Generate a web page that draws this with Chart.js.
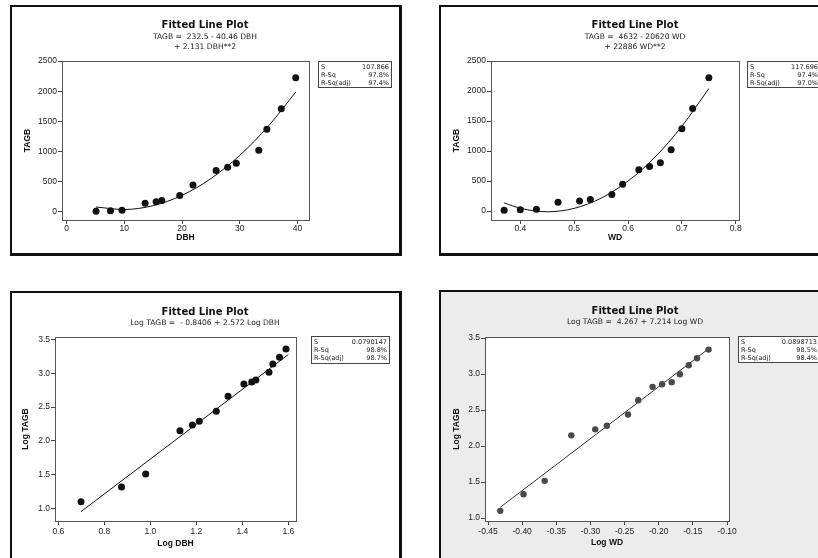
<!DOCTYPE html>
<html>
<head>
<meta charset="utf-8">
<script src="https://cdn.jsdelivr.net/npm/chart.js@4.4.1/dist/chart.umd.min.js"></script>
<style>
  html, body { margin: 0; padding: 0; overflow: hidden; }
  body { position: relative; width: 818px; height: 558px; background: #fff; font-family: 'DejaVu Sans', sans-serif; }
  .panel { position: absolute; box-sizing: border-box; border-style: solid; border-color: #111; border-width: 2px 3px 3px 2px; }
  canvas { position: absolute; }
  .ttl { position: absolute; width: 300px; text-align: center; font-weight: bold; font-size: 10px; line-height: 12px; color: #111; white-space: pre; }
  .sub { position: absolute; width: 300px; text-align: center; font-size: 7.6px; line-height: 10px; color: #222; white-space: pre; }
  .stats { position: absolute; box-sizing: border-box; border: 1px solid #444; background: #fff; font-size: 6.5px; line-height: 8px; padding: 1px 2px; color: #222; will-change: transform; }
  .stats div { display: flex; justify-content: space-between; }
</style>
</head>
<body>
<script>
// ---- values ----
const dbh  = [5.1, 7.6, 9.6, 13.6, 15.5, 16.5, 19.6, 21.9, 25.9, 27.9, 29.4, 33.3, 34.7, 37.2, 39.7];
const wd   = [0.37, 0.40, 0.43, 0.47, 0.51, 0.53, 0.57, 0.59, 0.62, 0.64, 0.66, 0.68, 0.70, 0.72, 0.75];
const tagb = [13, 22, 30, 145, 168, 190, 273, 447, 688, 741, 805, 1022, 1370, 1710, 2222];

const logDbh   = [0.699, 0.875, 0.980, 1.129, 1.183, 1.213, 1.287, 1.338, 1.407, 1.441, 1.459, 1.516, 1.533, 1.562, 1.590];
const logTagbD = [1.103, 1.320, 1.512, 2.152, 2.236, 2.289, 2.437, 2.658, 2.841, 2.870, 2.900, 3.013, 3.136, 3.234, 3.357];
const logWd    = [-0.432, -0.398, -0.367, -0.328, -0.293, -0.276, -0.245, -0.230, -0.209, -0.195, -0.181, -0.169, -0.156, -0.144, -0.127];
const logTagbW = [1.101, 1.332, 1.517, 2.149, 2.232, 2.282, 2.439, 2.637, 2.822, 2.859, 2.887, 2.997, 3.122, 3.219, 3.339];

// fitted lines
const fitDbhX = [5.1, 10, 15, 20, 25, 30, 35, 39.7];
const fitDbhY = [82, 41, 105, 276, 553, 937, 1427, 1985];
const fitWdX  = [0.37, 0.40, 0.45, 0.50, 0.55, 0.60, 0.65, 0.70, 0.75];
const fitWdY  = [136, 46, -13, 44, 214, 499, 898, 1412, 2040];
const fitLogDbhX = [0.699, 1.600];
const fitLogDbhY = [0.957, 3.275];
const fitLogWdX  = [-0.432, -0.125];
const fitLogWdY  = [1.151, 3.365];

// tick labels
const ticksDbh     = [0, 10, 20, 30, 40];
const ticksWd      = [0.4, 0.5, 0.6, 0.7, 0.8];
const ticksTagb    = [0, 500, 1000, 1500, 2000, 2500];
const ticksLogDbh  = [0.6, 0.8, 1.0, 1.2, 1.4, 1.6];
const ticksLogWd   = [-0.45, -0.40, -0.35, -0.30, -0.25, -0.20, -0.15, -0.10];
const ticksLogTagb = [1.0, 1.5, 2.0, 2.5, 3.0, 3.5];

const framePlugin = {
  id: 'frame',
  beforeDraw(chart) {
    const { ctx, chartArea: a } = chart;
    ctx.save();
    ctx.fillStyle = '#fff';
    ctx.fillRect(a.left, a.top, a.right - a.left, a.bottom - a.top);
    ctx.restore();
  },
  beforeDatasetsDraw(chart) {
    const { ctx, chartArea: a } = chart;
    ctx.save();
    ctx.strokeStyle = '#555';
    ctx.lineWidth = 1;
    ctx.strokeRect(Math.round(a.left) + 0.5, Math.round(a.top) + 0.5, Math.round(a.right - a.left), Math.round(a.bottom - a.top));
    ctx.restore();
  }
};

function addText(cls, text, cx, cy, h) {
  const el = document.createElement('div');
  el.className = cls;
  el.textContent = text;
  el.style.left = (cx - 150) + 'px';
  el.style.top = (cy - h / 2) + 'px';
  document.body.appendChild(el);
}

function addStats(rect, rows) {
  const el = document.createElement('div');
  el.className = 'stats';
  el.style.left = rect[0] + 'px';
  el.style.top = rect[1] + 'px';
  el.style.width = rect[2] + 'px';
  el.style.height = rect[3] + 'px';
  rows.forEach(r => {
    const row = document.createElement('div');
    row.innerHTML = '<span>' + r[0] + '</span><span>' + r[1] + '</span>';
    el.appendChild(row);
  });
  document.body.appendChild(el);
}

function axis(min, max, ticks, dec, title, isX, size, pad, titlePad) {
  return {
    type: 'linear',
    min: min,
    max: max,
    afterFit: s => { if (isX) s.height = size; else s.width = size; },
    afterBuildTicks: s => { s.ticks = ticks.map(v => ({ value: v })); },
    ticks: {
      callback: v => Number(v).toFixed(dec),
      color: '#222',
      font: { size: 8.5 },
      padding: pad,
      maxRotation: 0,
      autoSkip: false
    },
    grid: { display: true, drawOnChartArea: false, drawTicks: true, tickLength: 4, color: '#444' },
    border: { display: false },
    title: {
      display: true,
      text: title,
      color: '#111',
      font: { size: 8.5, weight: 'bold' },
      padding: { top: titlePad, bottom: titlePad }
    }
  };
}

function createPanel(p) {
  const [L, T, W, H] = p.box;
  const box = document.createElement('div');
  box.className = 'panel';
  Object.assign(box.style, { left: L + 'px', top: T + 'px', width: W + 'px', height: H + 'px', background: p.bg });
  document.body.appendChild(box);

  const cx = L + 2, cy = T + 2, cw = W - 5, ch = H - 5;
  const cv = document.createElement('canvas');
  cv.width = cw;
  cv.height = ch;
  cv.style.left = cx + 'px';
  cv.style.top = cy + 'px';
  document.body.appendChild(cv);

  const [x0, x1, y0, y1] = p.area;
  new Chart(cv, {
    type: 'scatter',
    data: {
      datasets: [
        {
          data: p.x.map((v, i) => ({ x: v, y: p.y[i] })),
          showLine: false,
          pointRadius: p.r,
          backgroundColor: p.dot,
          borderColor: p.dot,
          pointBorderWidth: 0
        },
        {
          data: p.fitX.map((v, i) => ({ x: v, y: p.fitY[i] })),
          showLine: true,
          pointRadius: 0,
          borderColor: p.line,
          borderWidth: 1,
          cubicInterpolationMode: 'monotone',
          fill: false
        }
      ]
    },
    options: {
      responsive: false,
      animation: false,
      events: [],
      layout: {
        padding: { left: x0 - cx - p.yW, right: cx + cw - x1, top: y0 - cy, bottom: cy + ch - y1 - p.xH }
      },
      plugins: { legend: { display: false }, tooltip: { enabled: false } },
      scales: {
        x: axis(p.xMin, p.xMax, p.xTicks, p.xDec, p.xTitle, true, p.xH, p.xPad, 1),
        y: axis(p.yMin, p.yMax, p.yTicks, p.yDec, p.yTitle, false, p.yW, 1, 1)
      }
    },
    plugins: [framePlugin]
  });
}

// top-left: TAGB vs DBH
createPanel({
  box: [10, 5, 392, 251], bg: '#fff', area: [62, 309, 61, 220],
  x: dbh, y: tagb, fitX: fitDbhX, fitY: fitDbhY, r: 3.5, dot: '#111', line: '#111',
  xMin: -0.8, xMax: 42, xTicks: ticksDbh, xDec: 0, xTitle: 'DBH', xH: 24, xPad: 0,
  yMin: -133, yMax: 2500, yTicks: ticksTagb, yDec: 0, yTitle: 'TAGB', yW: 40
});
addText('ttl', 'Fitted Line Plot', 205, 25, 12);
addText('sub', 'TAGB =  232.5 - 40.46 DBH', 205, 37, 10);
addText('sub', '+ 2.131 DBH**2', 205, 47, 10);
addStats([318, 61, 74, 27], [['S', '107.866'], ['R-Sq', '97.8%'], ['R-Sq(adj)', '97.4%']]);

// top-right: TAGB vs WD
createPanel({
  box: [439, 5, 392, 251], bg: '#fff', area: [491, 739, 61, 220],
  x: wd, y: tagb, fitX: fitWdX, fitY: fitWdY, r: 3.5, dot: '#111', line: '#111',
  xMin: 0.3456, xMax: 0.806, xTicks: ticksWd, xDec: 1, xTitle: 'WD', xH: 24, xPad: 0,
  yMin: -150, yMax: 2500, yTicks: ticksTagb, yDec: 0, yTitle: 'TAGB', yW: 40
});
addText('ttl', 'Fitted Line Plot', 635, 25, 12);
addText('sub', 'TAGB =  4632 - 20620 WD', 635, 37, 10);
addText('sub', '+ 22886 WD**2', 635, 47, 10);
addStats([747, 61, 74, 27], [['S', '117.696'], ['R-Sq', '97.4%'], ['R-Sq(adj)', '97.0%']]);

// bottom-left: Log TAGB vs Log DBH
createPanel({
  box: [10, 291, 392, 275], bg: '#fff', area: [55, 296, 337, 521],
  x: logDbh, y: logTagbD, fitX: fitLogDbhX, fitY: fitLogDbhY, r: 3.5, dot: '#111', line: '#111',
  xMin: 0.5857, xMax: 1.6335, xTicks: ticksLogDbh, xDec: 1, xTitle: 'Log DBH', xH: 29, xPad: 2,
  yMin: 0.818, yMax: 3.534, yTicks: ticksLogTagb, yDec: 1, yTitle: 'Log TAGB', yW: 35
});
addText('ttl', 'Fitted Line Plot', 205, 312, 12);
addText('sub', 'Log TAGB =  - 0.8406 + 2.572 Log DBH', 205, 323, 10);
addStats([311, 336, 79, 28], [['S', '0.0790147'], ['R-Sq', '98.8%'], ['R-Sq(adj)', '98.7%']]);

// bottom-right: Log TAGB vs Log WD
createPanel({
  box: [439, 290, 392, 276], bg: '#ececec', area: [485, 729, 337, 521],
  x: logWd, y: logTagbW, fitX: fitLogWdX, fitY: fitLogWdY, r: 3.2, dot: '#4a4a4a', line: '#333',
  xMin: -0.4544, xMax: -0.0971, xTicks: ticksLogWd, xDec: 2, xTitle: 'Log WD', xH: 28, xPad: 2,
  yMin: 0.96, yMax: 3.514, yTicks: ticksLogTagb, yDec: 1, yTitle: 'Log TAGB', yW: 34
});
addText('ttl', 'Fitted Line Plot', 635, 311, 12);
addText('sub', 'Log TAGB =  4.267 + 7.214 Log WD', 635, 322, 10);
addStats([738, 336, 82, 27], [['S', '0.0898713'], ['R-Sq', '98.5%'], ['R-Sq(adj)', '98.4%']]);
</script>
</body>
</html>
